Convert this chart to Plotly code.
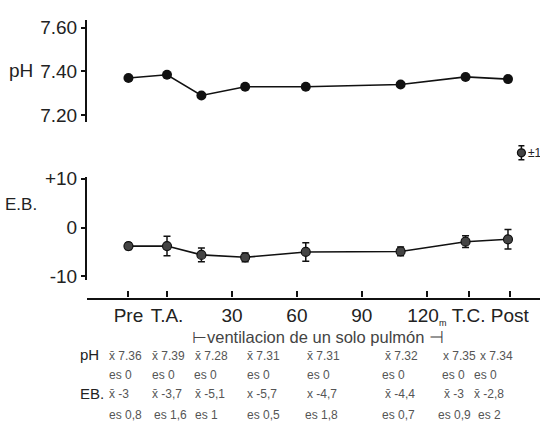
import plotly.graph_objects as go

W, H = 540, 431

# ---- data ----
tick_minutes = [-17.8, 0, 30, 60, 90, 120, 139.3, 158.3]
tick_labels = ["Pre", "T.A.", "30", "60", "90",
               "120<sub><span style='font-size:9px'>m</span></sub>", "T.C.", "Post"]
point_minutes = [-17.8, 0, 15.9, 36.1, 64.1, 107.9, 137.9, 157.5]
ph_values = [7.37, 7.385, 7.29, 7.33, 7.33, 7.34, 7.375, 7.365]
eb_values = [-3.8, -3.8, -5.6, -6.1, -5.0, -4.9, -2.9, -2.4]
eb_errors = [0.7, 2.0, 1.4, 0.9, 1.9, 0.9, 1.2, 2.0]

ph_ticks = [7.20, 7.40, 7.60]
ph_ticktext = ["7.20", "7.40", "7.60"]
eb_ticks = [-10, 0, 10]
eb_ticktext = ["-10", "0", "+10"]

ph_means = ["x̄ 7.36", "x̄ 7.39", "x̄ 7.28", "x̄ 7.31", "x̄ 7.31", "x̄ 7.32", "x 7.35", "x 7.34"]
ph_es = ["es 0", "es 0", "es 0", "es 0", "es 0", "es 0", "es 0", "es 0"]
eb_means = ["x̄ -3", "x̄ -3,7", "x̄ -5,1", "x -5,7", "x -4,7", "x̄ -4,4", "x̄ -3", "x̄ -2,8"]
eb_es = ["es 0,8", "es 1,6", "es 1", "es 0,5", "es 1,8", "es 0,7", "es 0,9", "es 2"]
caption = "⊢ventilacion de un solo pulmón ⊣"
legend_text = "±1"
legend_minutes = 163.7

# ---- layout helpers (pixel positions) ----
mean_px = [107, 150, 193, 245, 305, 383, 441, 478]
es_px = [107, 150, 192, 245, 305, 380, 440, 472]
ebm_px = [107, 150, 193, 245, 305, 383, 442, 472]
ebs_px = [107, 152, 193, 245, 303, 380, 436, 476]
FONT = "Liberation Sans, Arial, sans-serif"

def fx(px):
    return px / W

def fy(py):
    return 1 - py / H

fig = go.Figure()

fig.add_trace(go.Scatter(
    x=point_minutes, y=ph_values, mode="lines+markers",
    line=dict(color="#111", width=1.6),
    marker=dict(color="#111", size=10),
    xaxis="x", yaxis="y", showlegend=False))

fig.add_trace(go.Scatter(
    x=point_minutes, y=eb_values, mode="lines+markers",
    line=dict(color="#111", width=1.6),
    marker=dict(color="#444", size=9, line=dict(color="#111", width=1.2)),
    error_y=dict(type="data", array=eb_errors, color="#111", thickness=1.5, width=3.5),
    xaxis="x", yaxis="y2", showlegend=False))

# legend key (mean ± 1 sd)
fig.add_trace(go.Scatter(
    x=[legend_minutes], y=[0.5], mode="markers",
    marker=dict(color="#444", size=8, line=dict(color="#111", width=1.2)),
    error_y=dict(type="data", array=[0.36], color="#111", thickness=1.5, width=3),
    xaxis="x", yaxis="y3", showlegend=False, cliponaxis=False))

X0, SCALE = 167, 2.165
x_lo = (87 - X0) / SCALE
x_hi = (540 - X0) / SCALE

ph_per_px = 0.4 / (111 - 20.5)
eb_per_px = 20 / (278 - 177)

fig.update_layout(
    width=W, height=H, margin=dict(l=0, r=0, t=0, b=0),
    paper_bgcolor="white", plot_bgcolor="white",
    font=dict(family=FONT, color="#222"),
    xaxis=dict(domain=[fx(87), 1], range=[x_lo, x_hi], anchor="free", position=fy(301),
               showline=True, linewidth=2.2, linecolor="#111", ticks="inside", ticklen=6,
               tickwidth=1.5, tickcolor="#111", tickvals=tick_minutes, ticktext=tick_labels,
               tickfont=dict(size=19, color="#222"), tickangle=0, ticklabelstandoff=0,
               showgrid=False, zeroline=False),
    yaxis=dict(domain=[fy(118), fy(12)],
               range=[7.20 - (118 - 111) * ph_per_px, 7.60 + (20.5 - 12) * ph_per_px],
               anchor="x", showline=True, linewidth=2, linecolor="#111", ticks="outside",
               ticklen=4, tickwidth=1.5, tickcolor="#111", tickvals=ph_ticks,
               ticktext=ph_ticktext, tickfont=dict(size=19, color="#222"),
               showgrid=False, zeroline=False),
    yaxis2=dict(domain=[fy(282), fy(175)],
                range=[-10 - (282 - 278) * eb_per_px, 10 + (177 - 175) * eb_per_px],
                anchor="x", showline=True,
                linewidth=2, linecolor="#111", ticks="outside", ticklen=4, tickwidth=1.5,
                tickcolor="#111", tickvals=eb_ticks, ticktext=eb_ticktext,
                tickfont=dict(size=19, color="#222"), showgrid=False, zeroline=False),
    yaxis3=dict(domain=[fy(160), fy(140)], range=[0, 1], anchor="x", visible=False),
)

anns = []

def ann(text, px, py, size, xanchor="left", color="#555"):
    anns.append(dict(text=text, x=fx(px), y=fy(py), xref="paper", yref="paper",
                     xanchor=xanchor, yanchor="middle", showarrow=False,
                     font=dict(size=size, color=color, family=FONT)))

ann("pH", 20.5, 65, 19, "center", "#222")
ann("E.B.", 21, 204, 17, "center", "#222")
ann(caption, 318, 340.5, 16.5, "center", "#444")
ann(legend_text, 526, 150, 12, "left", "#222")

ann("pH", 78, 359, 15, "left", "#222")
ann("EB.", 78, 399, 15, "left", "#222")
for i in range(len(ph_means)):
    ann(ph_means[i], mean_px[i], 361, 12)
    ann(ph_es[i], es_px[i], 380, 12)
    ann(eb_means[i], ebm_px[i], 400, 12)
    ann(eb_es[i], ebs_px[i], 422, 12)

fig.update_layout(annotations=anns)
fig.write_html("out.html")
